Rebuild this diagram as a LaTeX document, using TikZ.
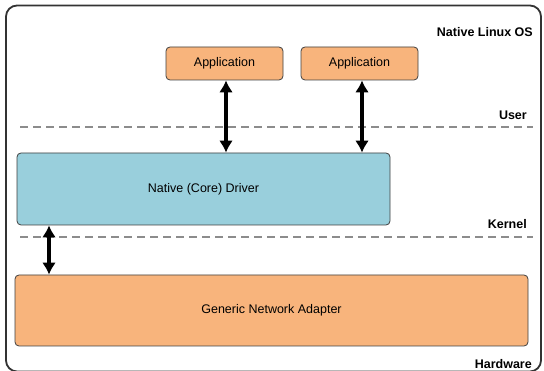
\documentclass[tikz,border=0pt]{standalone}
\usepackage{fontspec}
\setmainfont{Liberation Sans}
\usetikzlibrary{arrows.meta}
\definecolor{orangefill}{HTML}{F8B47C}
\definecolor{bluefill}{HTML}{99CFDC}
\definecolor{dashgray}{HTML}{8C8C8C}
\tikzset{
  box/.style={draw=black!75, line width=0.8pt, rounded corners=4pt, inner sep=0pt, font=\fontsize{12.5}{14}\selectfont},
  appbox/.style={box, fill=orangefill, minimum width=117pt, minimum height=33pt},
  layer/.style={draw=dashgray, line width=1.7pt, dash pattern=on 8pt off 5pt},
  lbl/.style={font=\bfseries\fontsize{12.5}{14}\selectfont, anchor=east, inner sep=0pt},
  conn/.style={line width=3.4pt, {Latex[length=12pt,width=14pt]}-{Latex[length=12pt,width=14pt]}}
}
\begin{document}
\begin{tikzpicture}[x=1pt,y=-1pt]
\useasboundingbox (0,0) rectangle (544,371);
\fill[white] (0,0) rectangle (544,371);
\node[draw=black!80, line width=1.8pt, rounded corners=11pt, minimum width=535pt, minimum height=366pt, inner sep=0pt] (os) at (273.5,188.5) {};
\node[lbl] (oslbl) at (533,32) {Native Linux OS};
\node[appbox] (app1) at (224.5,63.5) {Application};
\node[appbox] (app2) at (359.5,63.5) {Application};
\draw[layer] (20,127) -- (533,127);
\node[lbl] (userlbl) at (527,115) {User};
\node[box, fill=bluefill, minimum width=373pt, minimum height=72pt] (drv) at (203.5,189) {Native (Core) Driver};
\node[lbl] (kernlbl) at (527,224) {Kernel};
\draw[layer] (20,237) -- (533,237);
\node[box, fill=orangefill, minimum width=513pt, minimum height=71pt] (nic) at (271.5,310.5) {Generic Network Adapter};
\node[lbl] (hwlbl) at (532,364) {Hardware};
\draw[conn] (app1.south -| 226,0) -- (drv.north -| 226,0);
\draw[conn] (app2.south -| 362,0) -- (drv.north -| 362,0);
\draw[conn] (drv.south -| 49,0) -- (nic.north -| 49,0);
\end{tikzpicture}
\end{document}
